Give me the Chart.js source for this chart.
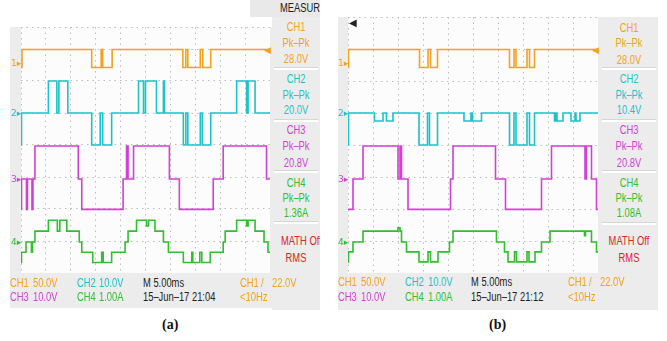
<!DOCTYPE html>
<html><head><meta charset="utf-8">
<script src="https://cdn.jsdelivr.net/npm/chart.js@4.4.0/dist/chart.umd.min.js"></script>
<style>
html,body{margin:0;padding:0;background:#fff;width:667px;height:341px;overflow:hidden;}
body{position:relative;}
.r{position:absolute;}
.t{position:absolute;font-family:"Liberation Sans",Arial,sans-serif;font-size:12px;line-height:12px;white-space:nowrap;transform:scale(0.78,1.08);transform-origin:0 50%;}
.c1{color:#f4a21e}.c2{color:#1cc3c8}.c3{color:#d43fd6}.c4{color:#2fbf2f}.k{color:#222}.rd{color:#e02424}
.pn{position:absolute;overflow:hidden;background:#ececec;}
.pn .t{width:100%;text-align:center;left:0;transform-origin:50% 50%;}
.sep{position:absolute;height:2px;background:#fff;border-top:1px solid #d6d6d6;}
.cap{position:absolute;font-family:"Liberation Serif","DejaVu Serif",serif;font-weight:bold;font-size:14px;line-height:14px;color:#111;}
.mk{position:absolute;font-family:"DejaVu Sans",sans-serif;font-size:9px;line-height:10px;}
canvas{position:absolute;background:#fcfcfc;}
</style>
</head><body>
<!-- left scope frame -->
<div class="r" style="left:10px;top:27px;width:262px;height:281px;background:#ececec"></div>
<div class="pn" style="left:250px;top:0px;width:70px;height:17px;background:#e9e9e9"><div class="t k" style="left:30px;top:2px;width:auto;text-align:left;transform-origin:0 50%">MEASURE</div></div>
<div class="pn" style="left:272px;top:17px;width:48px;height:293px">
  <div class="t c1" style="top:4px">CH1</div><div class="t c1" style="top:20px">Pk–Pk</div><div class="t c1" style="top:36px">28.0V</div>
  <div class="sep" style="left:2px;width:44px;top:50px"></div>
  <div class="t c2" style="top:56px">CH2</div><div class="t c2" style="top:72px">Pk–Pk</div><div class="t c2" style="top:87px">20.0V</div>
  <div class="sep" style="left:2px;width:44px;top:102px"></div>
  <div class="t c3" style="top:107px">CH3</div><div class="t c3" style="top:123px">Pk–Pk</div><div class="t c3" style="top:140px">20.8V</div>
  <div class="sep" style="left:2px;width:44px;top:153px"></div>
  <div class="t c4" style="top:160px">CH4</div><div class="t c4" style="top:175px">Pk–Pk</div><div class="t c4" style="top:190px">1.36A</div>
  <div class="sep" style="left:2px;width:44px;top:204px"></div>
  <div class="t rd" style="top:218px;left:9px;width:auto;text-align:left;transform-origin:0 50%">MATH Off</div><div class="t rd" style="top:235px">RMS</div>
</div>
<canvas id="ca" width="249" height="246" style="left:21px;top:27px"></canvas>
<div class="mk c1" style="left:11px;top:58px">1▸</div>
<div class="mk c2" style="left:11px;top:108px">2▸</div>
<div class="mk c3" style="left:11px;top:174px">3▸</div>
<div class="mk c4" style="left:11px;top:237px">4▸</div>
<div class="mk c1" style="left:264px;top:45px">◀</div>
<div class="t c1" style="left:10px;top:277px">CH1</div><div class="t c1" style="left:33px;top:277px">50.0V</div>
<div class="t c3" style="left:10px;top:291px">CH3</div><div class="t c3" style="left:33px;top:291px">10.0V</div>
<div class="t c2" style="left:77px;top:277px">CH2</div><div class="t c2" style="left:99px;top:277px">10.0V</div>
<div class="t c4" style="left:77px;top:291px">CH4</div><div class="t c4" style="left:99px;top:291px">1.00A</div>
<div class="t k" style="left:143px;top:277px">M 5.00ms</div>
<div class="t k" style="left:143px;top:291px">15–Jun–17 21:04</div>
<div class="t c1" style="left:240px;top:277px">CH1</div><div class="t c1" style="left:261px;top:277px">/</div><div class="t c1" style="left:272px;top:277px">22.0V</div>
<div class="t c1" style="left:240px;top:291px">&lt;10Hz</div>
<div class="cap" style="left:162px;top:318px">(a)</div>

<!-- right scope frame -->
<div class="r" style="left:338px;top:17px;width:262px;height:293px;background:#ececec"></div>
<div class="pn" style="left:600px;top:17px;width:58px;height:293px">
  <div class="t c1" style="top:5px">CH1</div><div class="t c1" style="top:20px">Pk–Pk</div><div class="t c1" style="top:37px">28.0V</div>
  <div class="sep" style="left:2px;width:54px;top:50px"></div>
  <div class="t c2" style="top:56px">CH2</div><div class="t c2" style="top:72px">Pk–Pk</div><div class="t c2" style="top:87px">10.4V</div>
  <div class="sep" style="left:2px;width:54px;top:102px"></div>
  <div class="t c3" style="top:107px">CH3</div><div class="t c3" style="top:123px">Pk–Pk</div><div class="t c3" style="top:140px">20.8V</div>
  <div class="sep" style="left:2px;width:54px;top:153px"></div>
  <div class="t c4" style="top:160px">CH4</div><div class="t c4" style="top:175px">Pk–Pk</div><div class="t c4" style="top:190px">1.08A</div>
  <div class="sep" style="left:2px;width:54px;top:205px"></div>
  <div class="t rd" style="top:218px">MATH Off</div><div class="t rd" style="top:235px">RMS</div>
</div>
<canvas id="cb" width="250" height="256" style="left:348px;top:17px"></canvas>
<div class="mk k" style="left:349px;top:18px;font-size:10px">◀</div>
<div class="mk c1" style="left:338px;top:58px">1▸</div>
<div class="mk c2" style="left:338px;top:108px">2▸</div>
<div class="mk c3" style="left:338px;top:174px">3▸</div>
<div class="mk c4" style="left:338px;top:237px">4▸</div>
<div class="mk c1" style="left:592px;top:45px">◀</div>
<div class="t c1" style="left:338px;top:276px">CH1</div><div class="t c1" style="left:361px;top:276px">50.0V</div>
<div class="t c3" style="left:338px;top:291px">CH3</div><div class="t c3" style="left:361px;top:291px">10.0V</div>
<div class="t c2" style="left:405px;top:276px">CH2</div><div class="t c2" style="left:428px;top:276px">10.0V</div>
<div class="t c4" style="left:405px;top:291px">CH4</div><div class="t c4" style="left:428px;top:291px">1.00A</div>
<div class="t k" style="left:471px;top:276px">M 5.00ms</div>
<div class="t k" style="left:471px;top:291px">15–Jun–17 21:12</div>
<div class="t c1" style="left:568px;top:276px">CH1</div><div class="t c1" style="left:589px;top:276px">/</div><div class="t c1" style="left:600px;top:276px">22.0V</div>
<div class="t c1" style="left:568px;top:291px">&lt;10Hz</div>
<div class="cap" style="left:489px;top:318px">(b)</div>

<script>
// ---- (a) waveforms: time in ms, values in channel units ----
const aCh1T = [0, 0.2, 14.2, 16.1, 16.4, 18.3, 32.5, 33.1, 33.5, 36.0, 36.5, 38.1, 50];
const aCh1V = [-7, 21, -7, 21, -7, 21, -7, 21, -7, 21, -7, 21, 21];
const aCh2T = [0, 0.1, 5.5, 7.2, 7.6, 9.4, 14.2, 15.9, 16.4, 18.2, 23.6, 24.6, 25.0, 27.2, 28.6, 28.8, 32.6, 33.1, 33.5, 36.0, 36.4, 38.1, 43.3, 45.3, 45.6, 47.0, 50];
const aCh2V = [-10, 0, 10, 0, 10, 0, -10, 0, -10, 0, 10, 0, 10, 0, 10, 0, -10, 0, -10, 0, -10, 0, 10, 0, 10, 0, 0];
const aCh3T = [0, 0.1, 1.1, 1.3, 2.2, 2.4, 2.8, 11.5, 12.2, 20.5, 21.2, 21.5, 22.6, 29.8, 31.8, 38.6, 40.6, 49.3, 50];
const aCh3V = [-9.5, 0, -9.5, 0, -9.5, 0, 10.3, 0, -9.5, 0, 10.3, 0, 10.3, 0, -9.5, 0, 10.3, 0, 0];
const aCh4T = [0, 0.1, 1.0, 2.1, 2.3, 2.8, 5.5, 7.3, 7.8, 9.2, 11.7, 12.2, 14.4, 16.2, 16.5, 18.2, 20.9, 21.5, 23.2, 25.2, 25.6, 26.9, 28.6, 29.6, 32.6, 34.3, 34.5, 35.9, 36.3, 38.0, 40.6, 41.0, 43.3, 45.3, 45.6, 47.0, 48.8, 49.6, 50];
const aCh4V = [-0.64, -0.32, 0, -0.32, 0, 0.34, 0.68, 0.34, 0.68, 0.34, 0, -0.32, -0.64, -0.32, -0.64, -0.32, 0, 0.34, 0.68, 0.5, 0.68, 0.34, 0, -0.32, -0.64, -0.32, -0.64, -0.32, -0.64, -0.32, 0, 0.34, 0.68, 0.5, 0.68, 0.34, 0, -0.32, -0.32];
// ---- (b) waveforms ----
const bCh1T = [0, 0.1, 14.3, 16.0, 16.5, 17.9, 32.3, 33.2, 33.6, 35.8, 36.3, 37.3, 50];
const bCh1V = [-7, 21, -7, 21, -7, 21, -7, 21, -7, 21, -7, 21, 21];
const bCh2T = [0, 0.1, 5.3, 7.0, 7.7, 9.0, 14.2, 15.9, 16.3, 17.9, 23.2, 24.6, 24.9, 26.7, 32.3, 33.2, 33.6, 35.8, 36.3, 37.3, 41.3, 41.6, 41.8, 43.0, 44.6, 45.4, 45.6, 46.4, 50];
const bCh2V = [-10, 0, -2.5, 0, -2.5, 0, -10, 0, -10, 0, -2.5, 0, -2.5, 0, -10, 0, -10, 0, -10, 0, -2.5, 0, -2.5, 0, -2.5, 0, -2.5, 0, 0];
const bCh3T = [0, 1.0, 3.0, 10.0, 10.4, 10.7, 12.0, 20.5, 21.0, 29.5, 31.5, 38.7, 40.7, 47.4, 47.7, 48.7, 49.7, 50];
const bCh3V = [-9.5, 0, 10.3, 0, 10.3, 0, -9.5, 0, 10.3, 0, -9.5, 0, 10.3, 0, 10.3, 0, -9.5, -9.5];
const bCh4T = [0, 0.1, 1.0, 3.0, 10.0, 10.4, 10.7, 11.7, 14.2, 16.0, 16.5, 18.0, 20.3, 21.0, 29.7, 31.3, 32.0, 33.3, 33.7, 35.8, 36.2, 37.4, 38.7, 40.4, 47.3, 47.5, 48.7, 49.7, 50];
const bCh4V = [-0.62, -0.31, 0, 0.34, 0.44, 0.34, 0, -0.31, -0.62, -0.31, -0.62, -0.31, 0, 0.34, 0, -0.31, -0.62, -0.31, -0.62, -0.31, -0.62, -0.31, 0, 0.34, 0.2, 0.34, 0, -0.31, -0.31];

// channel settings: units per division and ground marker (divisions from bottom)
const chPerDiv = [50, 10, 10, 1];
const chGround = [6.5625, 5.0, 2.9375, 0.96875];
const chColor = ['#f4a21e', '#1cc3c8', '#d43fd6', '#2fbf2f'];

function makeSets(ts, vs) {
  return ts.map((t, k) => ({
    data: t.map((x, i) => ({x: x, y: chGround[k] + vs[k][i] / chPerDiv[k]})),
    borderColor: chColor[k], borderWidth: 1.6, pointRadius: 0, stepped: 'before', fill: false, tension: 0
  }));
}
function makeChart(id, sets, ymax) {
  return new Chart(document.getElementById(id), {
    type: 'line',
    data: {datasets: sets},
    options: {
      responsive: false, animation: false, devicePixelRatio: 1,
      layout: {padding: 0},
      plugins: {legend: {display: false}, tooltip: {enabled: false}},
      scales: {
        x: {type: 'linear', min: 0, max: 50, ticks: {display: false, stepSize: 5},
            grid: {color: '#bdbdbd', drawTicks: false, lineWidth: 1}, border: {display: false, dash: [1.5, 4]}},
        y: {type: 'linear', min: 0, max: ymax, ticks: {display: false, stepSize: 1},
            grid: {color: '#bdbdbd', drawTicks: false, lineWidth: 1}, border: {display: false, dash: [1.5, 4]}}
      }
    }
  });
}
makeChart('ca', makeSets([aCh1T, aCh2T, aCh3T, aCh4T], [aCh1V, aCh2V, aCh3V, aCh4V]), 7.6875);
makeChart('cb', makeSets([bCh1T, bCh2T, bCh3T, bCh4T], [bCh1V, bCh2V, bCh3V, bCh4V]), 8);
</script>
</body></html>
